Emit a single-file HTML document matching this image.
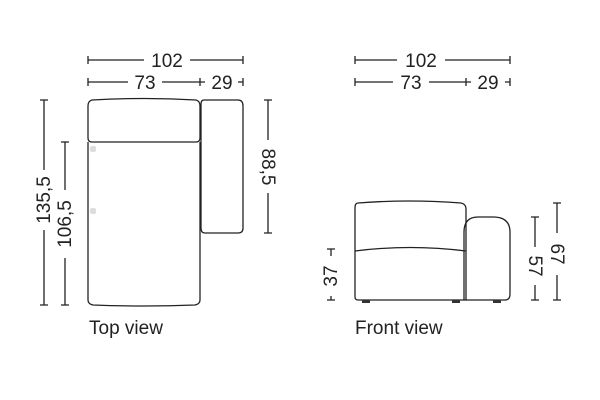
<!DOCTYPE html>
<html><head><meta charset="utf-8"><style>
html,body{margin:0;padding:0;background:#fff;}
svg{display:block;font-family:"Liberation Sans",sans-serif;}
</style></head><body>
<svg width="600" height="400" viewBox="0 0 600 400" xmlns="http://www.w3.org/2000/svg">
<g stroke="#222" stroke-width="1.3" fill="none">
<path d="M88,56v8M88,60h56M190,60h53M243,56v8"/>
<path d="M88,78v8M88,82h40M162,82h43M200,78v8M238,82h5M243,78v8"/>
<path d="M40,100h8M44,100v70M44,230v75M40,305h8"/>
<path d="M61,142h8M65,142v48M65,258v47M61,305h8"/>
<path d="M264,100h8M268,100v40M268,193v40M264,233h8"/>
<path d="M92,100 Q144,97 196,100 Q200,101 200,106 V138 Q200,142 196,142 H92 Q88,142 88,138 V106 Q88,101 92,100Z"/>
<path d="M88,142 V300 Q88,304 93,305 Q144,307 195,305 Q200,304 200,300 V142"/>
<path d="M204,100 H238 Q243,100 243,106 V228 Q243,233 238,233 H205 Q201,233 201,228 V104 Q201,100 204,100Z"/>
<path d="M355,56v8M355,60h42M445,60h65M510,56v8"/>
<path d="M355,78v8M355,82h38M429,82h42M466,78v8M505,82h5M510,78v8"/>
<path d="M327,249h8M331,249v7M331,296v4M327,300h8"/>
<path d="M531,217h8M535,217v30M535,285v15M531,300h8"/>
<path d="M553,203h8M557,203v30M557,275v25M553,300h8"/>
<path d="M358,203 Q410,199 461,203 Q466,204 466,209 V300 H358 Q355,300 355,297 V208 Q355,203 358,203Z"/>
<path d="M355,251 Q410,244 466,251"/>
<path d="M466,300 H505 Q510,300 510,294 V232 Q510,217 493,217 H478 Q464,217 464,232 V300"/>
</g>
<g fill="#333"><rect x="362" y="300" width="8" height="3"/><rect x="452" y="300" width="8" height="3"/><rect x="493" y="300" width="8" height="3"/></g>
<g fill="#ddd"><rect x="90" y="146" width="6" height="6" rx="2"/><rect x="90" y="208" width="6" height="6" rx="2"/></g>
<g fill="#222" font-size="19" text-anchor="middle">
<text x="167" y="67">102</text>
<text x="145" y="89">73</text>
<text x="222" y="89">29</text>
<text x="421" y="67">102</text>
<text x="411" y="89">73</text>
<text x="488" y="89">29</text>
<text transform="translate(50,200) rotate(-90)">135,5</text>
<text transform="translate(71,224) rotate(-90)">106,5</text>
<text transform="translate(262,167) rotate(90)">88,5</text>
<text transform="translate(337,276) rotate(-90)">37</text>
<text transform="translate(529,266) rotate(90)">57</text>
<text transform="translate(551,254) rotate(90)">67</text>
<text x="89" y="334" text-anchor="start">Top view</text>
<text x="355" y="334" text-anchor="start">Front view</text>
</g>
</svg>
</body></html>
